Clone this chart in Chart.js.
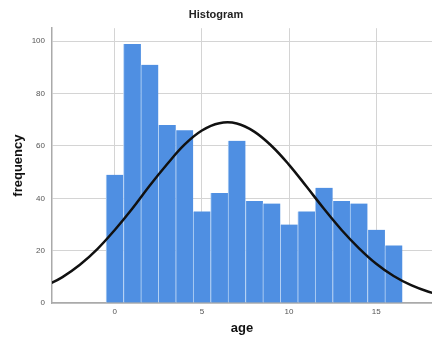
<!DOCTYPE html>
<html>
<head>
<meta charset="utf-8">
<script src="https://cdn.jsdelivr.net/npm/chart.js@4"></script>
<style>
  html, body { margin: 0; padding: 0; background: #fff; }
  #wrap { width: 432px; height: 338px; }
</style>
</head>
<body>
<div id="wrap"><canvas id="chart1" width="432" height="338"></canvas></div>
<script>
// histogram bins (age) and counts
const ages = [0, 1, 2, 3, 4, 5, 6, 7, 8, 9, 10, 11, 12, 13, 14, 15, 16];
const counts = [49, 99, 91, 68, 66, 35, 42, 62, 39, 38, 30, 35, 44, 39, 38, 28, 22];

// normal curve (ends run past the plot edges and are clipped)
const curveX = [-4, -3, -2, -1, 0, 1, 2, 3, 4, 5, 6, 7, 8, 9, 10, 11, 12, 13, 14, 15, 16, 17, 18, 19];
const curveY = [6.4, 9.9, 14.6, 20.6, 27.9, 36, 44.8, 53, 60.5, 65.9, 68.7, 68.6, 65.5, 60, 52.8, 44.5, 36, 28, 21, 15, 10.3, 6.8, 4.3, 2.7];

const xTicks = [0, 5, 10, 15];
const yTicks = [0, 20, 40, 60, 80, 100];

const ctx1 = document.getElementById('chart1').getContext('2d');

new Chart(ctx1, {
    type: 'bar',
    data: {
        datasets: [
            {
                type: 'line',
                data: curveX.map((x, i) => ({ x: x, y: curveY[i] })),
                borderColor: '#111',
                borderWidth: 2.5,
                pointRadius: 0,
                tension: 0.4,
                fill: false,
                order: 0,
            },
            {
                data: ages.map((a, i) => ({ x: a, y: counts[i] })),
                backgroundColor: '#4f8fe2',
                borderColor: '#b3d1f4',
                borderWidth: { left: 1, right: 0, top: 0, bottom: 0 },
                borderSkipped: false,
                barPercentage: 1,
                categoryPercentage: 1,
                order: 1,
            },
        ],
    },
    options: {
        responsive: false,
        animation: false,
        layout: { padding: 0 },
        plugins: {
            legend: { display: false },
            tooltip: { enabled: false },
            title: {
                display: true,
                text: 'Histogram',
                color: '#222',
                font: { family: 'Liberation Sans, Arial, sans-serif', size: 11, weight: 'bold' },
                padding: { top: 8, bottom: 7 },
            },
        },
        scales: {
            x: {
                type: 'linear',
                min: -3.6,
                max: 18.2,
                offset: false,
                afterBuildTicks: (s) => { s.ticks = xTicks.map(v => ({ value: v })); },
                afterFit: (s) => { s.height = 35; },
                ticks: {
                    color: '#555',
                    font: { family: 'Liberation Sans, Arial, sans-serif', size: 8 },
                    padding: 4,
                },
                grid: { color: '#d4d4d4', offset: false, drawTicks: false },
                border: { color: '#aaa', width: 1.5 },
                title: {
                    display: true,
                    text: 'age',
                    color: '#111',
                    font: { family: 'Liberation Sans, Arial, sans-serif', size: 13, weight: 'bold' },
                    padding: { top: 4, bottom: 2 },
                },
            },
            y: {
                min: 0,
                max: 105,
                afterBuildTicks: (s) => { s.ticks = yTicks.map(v => ({ value: v })); },
                afterFit: (s) => { s.width = 52; },
                ticks: {
                    color: '#555',
                    font: { family: 'Liberation Sans, Arial, sans-serif', size: 8 },
                    padding: 7,
                },
                grid: { color: '#d4d4d4', drawTicks: false },
                border: { color: '#aaa', width: 1.5 },
                title: {
                    display: true,
                    text: 'frequency',
                    color: '#111',
                    font: { family: 'Liberation Sans, Arial, sans-serif', size: 13, weight: 'bold' },
                    padding: { top: 11, bottom: 0 },
                },
            },
        },
    },
});
</script>
</body>
</html>
